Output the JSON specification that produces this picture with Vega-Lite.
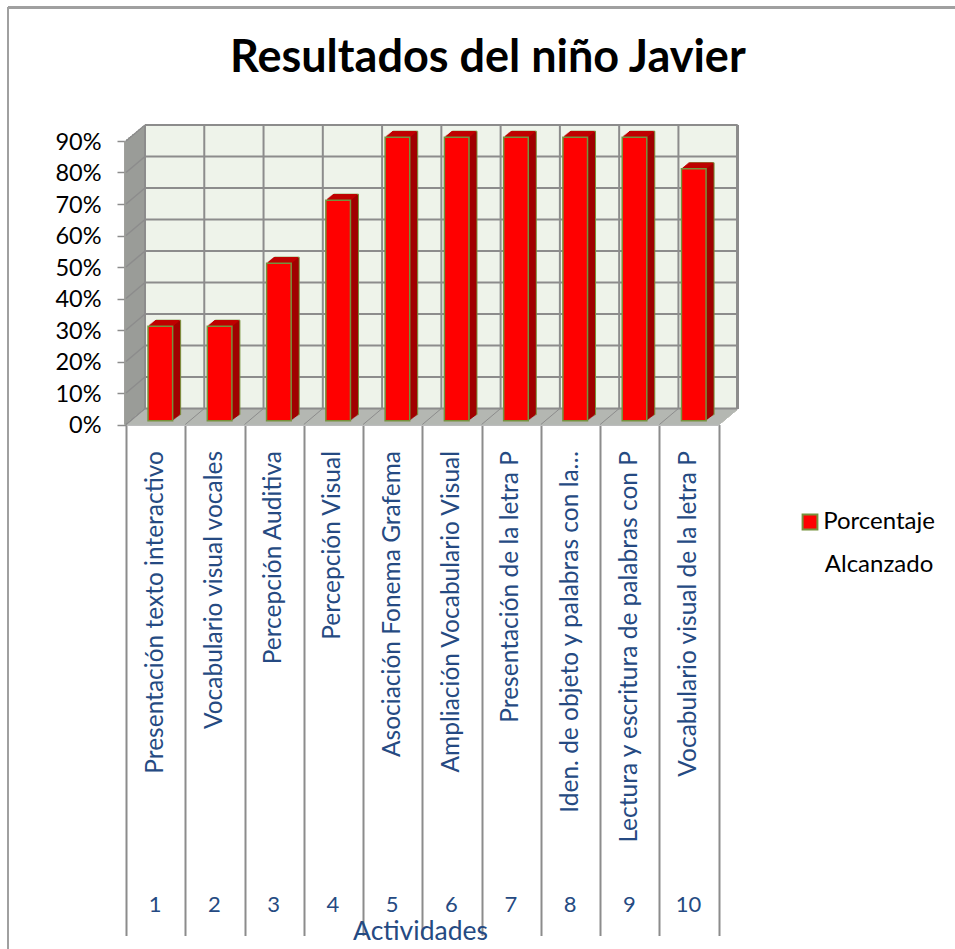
{"$schema":"https://vega.github.io/schema/vega-lite/v6.json","width":592.7,"height":283.5,"autosize":"none","padding":{"left":126,"top":141,"right":236.3,"bottom":524.5},"background":"white","font":"Lato","config":{"view":{"stroke":null},"font":"Lato"},
"title":{"text":"Resultados del niño Javier","font":"Lato","fontSize":45,"fontWeight":"bold","color":"#000000","anchor":"start","frame":"group","offset":-75,"dx":104},
"resolve":{"axis":{"x":"independent","y":"independent"}},
"datasets":{"levels":[{"nivel":0},{"nivel":0.1},{"nivel":0.2},{"nivel":0.3},{"nivel":0.4},{"nivel":0.5},{"nivel":0.6},{"nivel":0.7},{"nivel":0.8},{"nivel":0.9}]},
"data":{"values":[
{"actividad":"Presentación texto interactivo","porcentaje":0.3},
{"actividad":"Vocabulario visual vocales","porcentaje":0.3},
{"actividad":"Percepción Auditiva","porcentaje":0.5},
{"actividad":"Percepción Visual","porcentaje":0.7},
{"actividad":"Asociación Fonema Grafema","porcentaje":0.9},
{"actividad":"Ampliación Vocabulario Visual","porcentaje":0.9},
{"actividad":"Presentación de la letra P","porcentaje":0.9},
{"actividad":"Iden. de objeto y palabras  con la…","porcentaje":0.9},
{"actividad":"Lectura y escritura de palabras con P","porcentaje":0.9},
{"actividad":"Vocabulario visual de la letra P","porcentaje":0.8}]},
"layer":[
{"mark":{"type":"rule","color":"#a0a0a0","strokeWidth":2,"xOffset":-118,"x2Offset":-118},
"encoding":{"x":{"datum":"Presentación texto interactivo","type":"nominal","bandPosition":0,"axis":null,"scale":{"domain":["Presentación texto interactivo","Vocabulario visual vocales","Percepción Auditiva","Percepción Visual","Asociación Fonema Grafema","Ampliación Vocabulario Visual","Presentación de la letra P","Iden. de objeto y palabras  con la…","Lectura y escritura de palabras con P","Vocabulario visual de la letra P"],"paddingInner":0,"paddingOuter":0}},
"y":{"datum":1.324,"type":"quantitative","axis":null,"scale":{"domain":[0,0.9],"nice":false,"zero":false}},"y2":{"datum":-1.7}}},
{"mark":{"type":"rule","color":"#a0a0a0","strokeWidth":2,"xOffset":-118,"x2Offset":300},
"encoding":{"x":{"datum":"Presentación texto interactivo","type":"nominal","bandPosition":0,"axis":null},"x2":{"datum":"Vocabulario visual de la letra P"},"y":{"datum":1.324,"type":"quantitative","axis":null}}},
{"mark":{"type":"rect","fill":"#eef3ea","xOffset":19,"x2Offset":19,"yOffset":-16,"y2Offset":-16},
"encoding":{"x":{"datum":"Presentación texto interactivo","type":"nominal","bandPosition":0,"axis":null},"x2":{"datum":"Vocabulario visual de la letra P","bandPosition":1},"y":{"datum":0.9,"type":"quantitative","axis":null},"y2":{"datum":0}}},
{"encoding":{"x":{"datum":"Presentación texto interactivo","type":"nominal","bandPosition":0,"axis":null},"y":{"datum":0,"type":"quantitative","axis":null},"y2":{"datum":0.9}},
"layer":[
{"mark":{"type":"rule","color":"#9a9c98","strokeWidth":2.5,"xOffset":0,"yOffset":0,"y2Offset":0}},
{"mark":{"type":"rule","color":"#9a9c98","strokeWidth":2.5,"xOffset":2,"yOffset":-1.6,"y2Offset":-1.6}},
{"mark":{"type":"rule","color":"#9a9c98","strokeWidth":2.5,"xOffset":4,"yOffset":-3.2,"y2Offset":-3.2}},
{"mark":{"type":"rule","color":"#9a9c98","strokeWidth":2.5,"xOffset":6,"yOffset":-4.8,"y2Offset":-4.8}},
{"mark":{"type":"rule","color":"#9a9c98","strokeWidth":2.5,"xOffset":8,"yOffset":-6.4,"y2Offset":-6.4}},
{"mark":{"type":"rule","color":"#9a9c98","strokeWidth":2.5,"xOffset":10,"yOffset":-8,"y2Offset":-8}},
{"mark":{"type":"rule","color":"#9a9c98","strokeWidth":2.5,"xOffset":12,"yOffset":-9.6,"y2Offset":-9.6}},
{"mark":{"type":"rule","color":"#9a9c98","strokeWidth":2.5,"xOffset":14,"yOffset":-11.2,"y2Offset":-11.2}},
{"mark":{"type":"rule","color":"#9a9c98","strokeWidth":2.5,"xOffset":16,"yOffset":-12.8,"y2Offset":-12.8}},
{"mark":{"type":"rule","color":"#9a9c98","strokeWidth":2.5,"xOffset":18,"yOffset":-14.4,"y2Offset":-14.4}}
]},
{"encoding":{"x":{"datum":"Presentación texto interactivo","type":"nominal","bandPosition":0,"axis":null},"x2":{"datum":"Vocabulario visual de la letra P","bandPosition":1},"y":{"datum":0,"type":"quantitative","axis":null}},
"layer":[
{"mark":{"type":"rule","color":"#b5b7b2","strokeWidth":1.6,"xOffset":1.2,"x2Offset":1.2,"yOffset":-1}},
{"mark":{"type":"rule","color":"#b5b7b2","strokeWidth":1.6,"xOffset":2.4,"x2Offset":2.4,"yOffset":-2}},
{"mark":{"type":"rule","color":"#b5b7b2","strokeWidth":1.6,"xOffset":3.6,"x2Offset":3.6,"yOffset":-3}},
{"mark":{"type":"rule","color":"#b5b7b2","strokeWidth":1.6,"xOffset":4.8,"x2Offset":4.8,"yOffset":-4}},
{"mark":{"type":"rule","color":"#b5b7b2","strokeWidth":1.6,"xOffset":6,"x2Offset":6,"yOffset":-5}},
{"mark":{"type":"rule","color":"#b5b7b2","strokeWidth":1.6,"xOffset":7.2,"x2Offset":7.2,"yOffset":-6}},
{"mark":{"type":"rule","color":"#b5b7b2","strokeWidth":1.6,"xOffset":8.4,"x2Offset":8.4,"yOffset":-7}},
{"mark":{"type":"rule","color":"#b5b7b2","strokeWidth":1.6,"xOffset":9.6,"x2Offset":9.6,"yOffset":-8}},
{"mark":{"type":"rule","color":"#b5b7b2","strokeWidth":1.6,"xOffset":10.8,"x2Offset":10.8,"yOffset":-9}},
{"mark":{"type":"rule","color":"#b5b7b2","strokeWidth":1.6,"xOffset":12,"x2Offset":12,"yOffset":-10}},
{"mark":{"type":"rule","color":"#b5b7b2","strokeWidth":1.6,"xOffset":13.2,"x2Offset":13.2,"yOffset":-11}},
{"mark":{"type":"rule","color":"#b5b7b2","strokeWidth":1.6,"xOffset":14.4,"x2Offset":14.4,"yOffset":-12}},
{"mark":{"type":"rule","color":"#b5b7b2","strokeWidth":1.6,"xOffset":15.6,"x2Offset":15.6,"yOffset":-13}},
{"mark":{"type":"rule","color":"#b5b7b2","strokeWidth":1.6,"xOffset":16.8,"x2Offset":16.8,"yOffset":-14}},
{"mark":{"type":"rule","color":"#b5b7b2","strokeWidth":1.6,"xOffset":18,"x2Offset":18,"yOffset":-15}}
]},
{"data":{"name":"levels"},"mark":{"type":"rule","color":"#8c8c8c","strokeWidth":2,"xOffset":19,"x2Offset":19,"yOffset":-16},
"encoding":{"x":{"datum":"Presentación texto interactivo","type":"nominal","bandPosition":0,"axis":null},"x2":{"datum":"Vocabulario visual de la letra P","bandPosition":1},"y":{"field":"nivel","type":"quantitative","axis":null}}},
{"data":{"name":"levels"},"mark":{"type":"rule","color":"#8c8c8c","strokeWidth":1.5,"x2Offset":19,"y2Offset":-16},
"encoding":{"x":{"datum":"Presentación texto interactivo","type":"nominal","bandPosition":0,"axis":null},"x2":{"datum":"Presentación texto interactivo","bandPosition":0},"y":{"field":"nivel","type":"quantitative","axis":null},"y2":{"field":"nivel"}}},
{"mark":{"type":"rule","color":"#8c8c8c","strokeWidth":2,"xOffset":19,"yOffset":-16,"y2Offset":-16},
"encoding":{"x":{"field":"actividad","type":"nominal","bandPosition":0,"axis":null},"y":{"datum":0,"type":"quantitative","axis":null},"y2":{"datum":0.9}}},
{"mark":{"type":"rule","color":"#8c8c8c","strokeWidth":2,"xOffset":19,"yOffset":-16,"y2Offset":-16},
"encoding":{"x":{"datum":"Vocabulario visual de la letra P","type":"nominal","bandPosition":1,"axis":null},"y":{"datum":0,"type":"quantitative","axis":null},"y2":{"datum":0.9}}},
{"mark":{"type":"rule","color":"#8c8c8c","strokeWidth":1,"x2Offset":19,"y2Offset":-16},
"encoding":{"x":{"field":"actividad","type":"nominal","bandPosition":0,"axis":null},"x2":{"field":"actividad","bandPosition":0},"y":{"datum":0,"type":"quantitative","axis":null},"y2":{"datum":0}}},
{"encoding":{"x":{"field":"actividad","type":"nominal","axis":null},"y":{"field":"porcentaje","type":"quantitative","axis":null},"y2":{"datum":0}},
"layer":[
{"mark":{"type":"bar","width":24.6,"fill":"#a00000","stroke":"#76923c","strokeWidth":1,"xOffset":12.7,"yOffset":-9.8,"y2Offset":-9.8}},
{"mark":{"type":"bar","width":24.6,"fill":"#a00000","xOffset":11.7,"yOffset":-9,"y2Offset":-9}},
{"mark":{"type":"bar","width":24.6,"fill":"#a00000","xOffset":10.7,"yOffset":-8.3,"y2Offset":-8.3}},
{"mark":{"type":"bar","width":24.6,"fill":"#a00000","xOffset":9.7,"yOffset":-7.5,"y2Offset":-7.5}},
{"mark":{"type":"bar","width":24.6,"fill":"#a00000","xOffset":8.7,"yOffset":-6.8,"y2Offset":-6.8}},
{"mark":{"type":"bar","width":24.6,"fill":"#a00000","xOffset":7.7,"yOffset":-6,"y2Offset":-6}},
{"mark":{"type":"bar","width":24.6,"fill":"#a00000","xOffset":6.7,"yOffset":-5.3,"y2Offset":-5.3}},
{"mark":{"type":"bar","width":24.6,"fill":"#a00000","xOffset":5.7,"yOffset":-4.5,"y2Offset":-4.5}}
]},
{"encoding":{"x":{"field":"actividad","type":"nominal","axis":null},"y":{"field":"porcentaje","type":"quantitative","axis":null}},
"layer":[
{"mark":{"type":"tick","size":24.6,"thickness":1.3,"color":"#c00000","opacity":1,"xOffset":11.5,"yOffset":-9.3}},
{"mark":{"type":"tick","size":24.6,"thickness":1.3,"color":"#c00000","opacity":1,"xOffset":10.4,"yOffset":-8.4}},
{"mark":{"type":"tick","size":24.6,"thickness":1.3,"color":"#c00000","opacity":1,"xOffset":9.3,"yOffset":-7.5}},
{"mark":{"type":"tick","size":24.6,"thickness":1.3,"color":"#c00000","opacity":1,"xOffset":8.2,"yOffset":-6.6}},
{"mark":{"type":"tick","size":24.6,"thickness":1.3,"color":"#c00000","opacity":1,"xOffset":7.1,"yOffset":-5.7}},
{"mark":{"type":"tick","size":24.6,"thickness":1.3,"color":"#c00000","opacity":1,"xOffset":6,"yOffset":-4.8}}
]},
{"mark":{"type":"bar","width":24.6,"stroke":"#76923c","strokeWidth":1.5,"xOffset":4.7,"yOffset":-3.8,"y2Offset":-3.8},
"encoding":{
"x":{"field":"actividad","type":"nominal","axis":{"orient":"bottom","title":"Actividades","titleFont":"Lato","titleFontSize":26.5,"titleFontWeight":"normal","titleColor":"#254a82","titleX":294,"titleY":507,"titleBaseline":"middle","domain":true,"domainColor":"#bcbcbc","domainWidth":2,"ticks":true,"tickBand":"extent","tickSize":511,"tickColor":"#8c8c8c","tickWidth":2,"labelAngle":0,"labelAlign":"center","labelBaseline":"top","labelPadding":-41,"labelFont":"Lato","labelFontSize":22,"labelColor":"#254a82","labelExpr":"datum.index<0 ? '' : round(datum.index*9)+1","labelOffset":-1,"grid":false}},
"y":{"field":"porcentaje","type":"quantitative","axis":{"title":null,"values":[0,0.1,0.2,0.3,0.4,0.5,0.6,0.7,0.8,0.9],"format":".0%","domain":false,"grid":false,"ticks":true,"tickSize":9,"tickColor":"#8c8c8c","tickWidth":1.5,"labelPadding":16,"labelFont":"Lato","labelFontSize":23.5,"labelColor":"#000000","labelOffset":1}},
"y2":{"datum":0},
"color":{"datum":"Porcentaje Alcanzado","type":"nominal","scale":{"range":["#ff0000"]},
"legend":{"title":null,"orient":"none","legendX":672,"legendY":369,"symbolType":"square","symbolSize":220,"symbolStrokeColor":"#76923c","symbolStrokeWidth":2,"labelFont":"Lato","labelFontSize":24,"labelColor":"#000000","labelExpr":"['Porcentaje','Alcanzado']","labelLimit":300,"labelAlign":"center","labelOffset":57,"encode":{"labels":{"update":{"lineHeight":{"value":43}}}}}}}},
{"mark":{"type":"text","opacity":0},
"encoding":{"x":{"field":"actividad","type":"nominal","axis":{"orient":"bottom","title":null,"domain":false,"ticks":false,"labelAngle":-90,"labelAlign":"right","labelBaseline":"middle","labelPadding":26,"labelFont":"Lato","labelFontSize":24.5,"labelColor":"#254a82","labelLimit":600,"grid":false}},"y":{"field":"porcentaje","type":"quantitative","axis":null},"text":{"field":"actividad"}}}
]}
